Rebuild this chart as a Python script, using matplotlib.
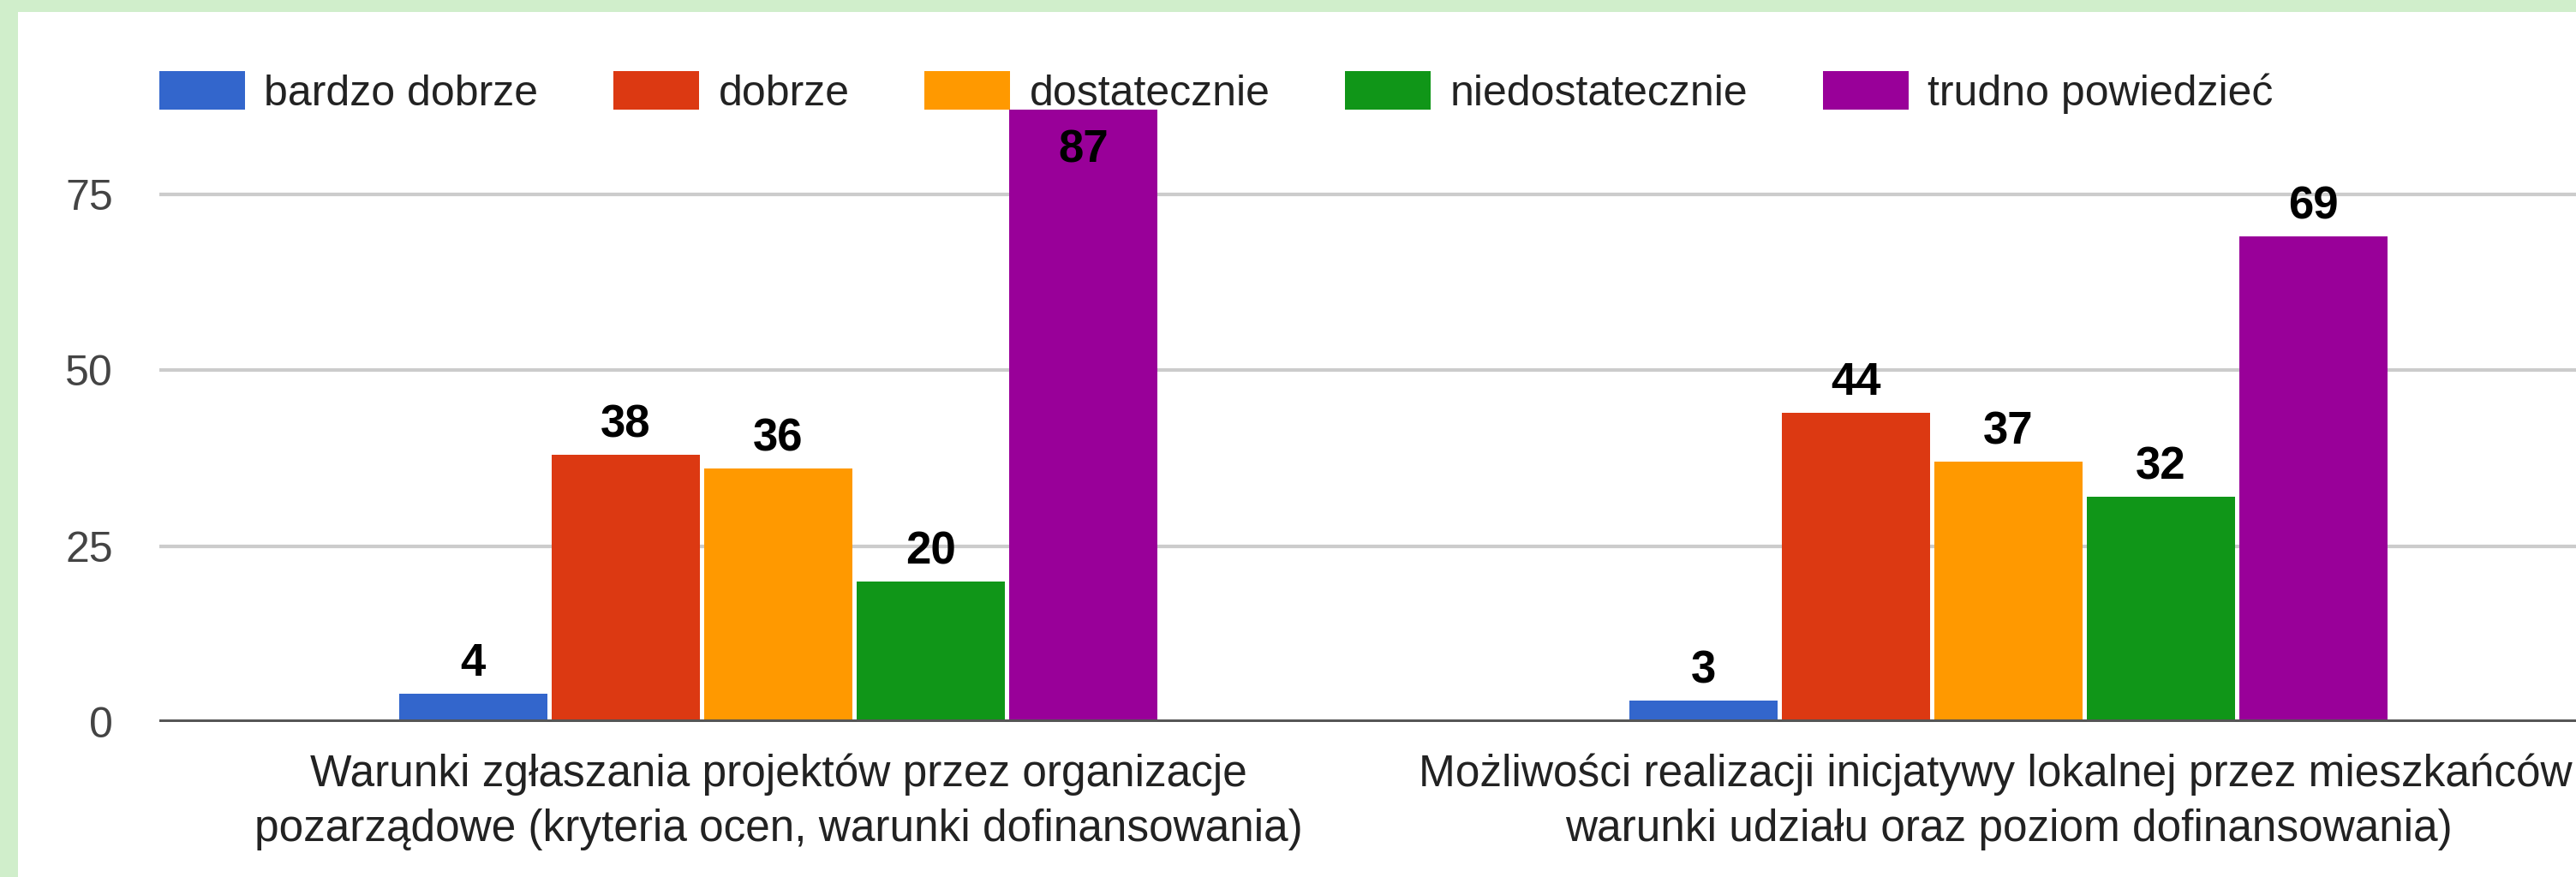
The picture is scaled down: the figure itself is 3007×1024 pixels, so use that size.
import numpy as np
import matplotlib.pyplot as plt
from matplotlib.patches import Patch, Rectangle

# ---- dane ----
categories = [
    "Warunki zgłaszania projektów przez organizacje\npozarządowe (kryteria ocen, warunki dofinansowania)",
    "Możliwości realizacji inicjatywy lokalnej przez mieszkańców (\nwarunki udziału oraz poziom dofinansowania)",
]
series = ["bardzo dobrze", "dobrze", "dostatecznie", "niedostatecznie", "trudno powiedzieć"]
bardzo_dobrze = [4, 3]
dobrze = [38, 44]
dostatecznie = [36, 37]
niedostatecznie = [20, 32]
trudno = [87, 69]
values = [bardzo_dobrze, dobrze, dostatecznie, niedostatecznie, trudno]
colors = ["#3366cc", "#dc3912", "#ff9900", "#109618", "#990099"]
yticks = [0, 25, 50, 75]

plt.rcParams["font.family"] = ["Liberation Sans", "DejaVu Sans"]

W, H = 3007, 1024
fig = plt.figure(figsize=(W / 100, H / 100), dpi=100, facecolor="white")
# zielona ramka (lewa i górna krawędź)
green = "#d0eecb"
fig.patches.append(Rectangle((0, 0), 21 / W, 1, transform=fig.transFigure,
                             facecolor=green, edgecolor="none"))
fig.patches.append(Rectangle((0, 1 - 14 / H), 1, 14 / H, transform=fig.transFigure,
                             facecolor=green, edgecolor="none"))

ax = fig.add_axes([186 / W, 1 - 843 / H, 1 - 186 / W, 87.5 * 8.213 / H])
ax.set_facecolor("none")

x = np.arange(len(categories))
step, width = 0.124, 0.1205
for i, (name, vals, c) in enumerate(zip(series, values, colors)):
    pos = x + (i - 2) * step
    bars = ax.bar(pos, vals, width, color=c, label=name, zorder=3, clip_on=False)
    for b, v in zip(bars, vals):
        if v > 85:
            ax.annotate(str(v), (b.get_x() + b.get_width() / 2, v), xytext=(0, -16),
                        textcoords="offset points", ha="center", va="top",
                        fontsize=38, fontweight="bold", color="black", zorder=5)
        else:
            ax.annotate(str(v), (b.get_x() + b.get_width() / 2, v), xytext=(0, 7),
                        textcoords="offset points", ha="center", va="bottom",
                        fontsize=38, fontweight="bold", color="black", zorder=5)

ax.set_xlim((186 - 908.5) / 1436, (3007 - 908.5) / 1436)
ax.set_ylim(0, 87.5)
ax.set_yticks(yticks)
ax.set_yticklabels([str(t) for t in yticks], fontsize=36, color="#444444")
ax.tick_params(axis="y", length=0, pad=39)
ax.set_xticks(x)
ax.set_xticklabels(categories, fontsize=37, color="#222222", linespacing=1.4)
ax.tick_params(axis="x", length=0, pad=26)

ax.grid(axis="y", color="#cccccc", linewidth=3, zorder=0)
ax.axhline(0, color="#555555", linewidth=5, zorder=4)
for s in ax.spines.values():
    s.set_visible(False)

handles = [Patch(facecolor=c, edgecolor="none") for c in colors]
fig.legend(handles, series, loc="center left", bbox_to_anchor=(186 / W, 1 - 108 / H),
           ncol=5, frameon=False, fontsize=36, handlelength=2.0, handleheight=1.0,
           handletextpad=0.45, columnspacing=1.75, borderpad=0, borderaxespad=0,
           labelcolor="#222222")

plt.savefig("out.png", dpi=100, facecolor=fig.get_facecolor())
